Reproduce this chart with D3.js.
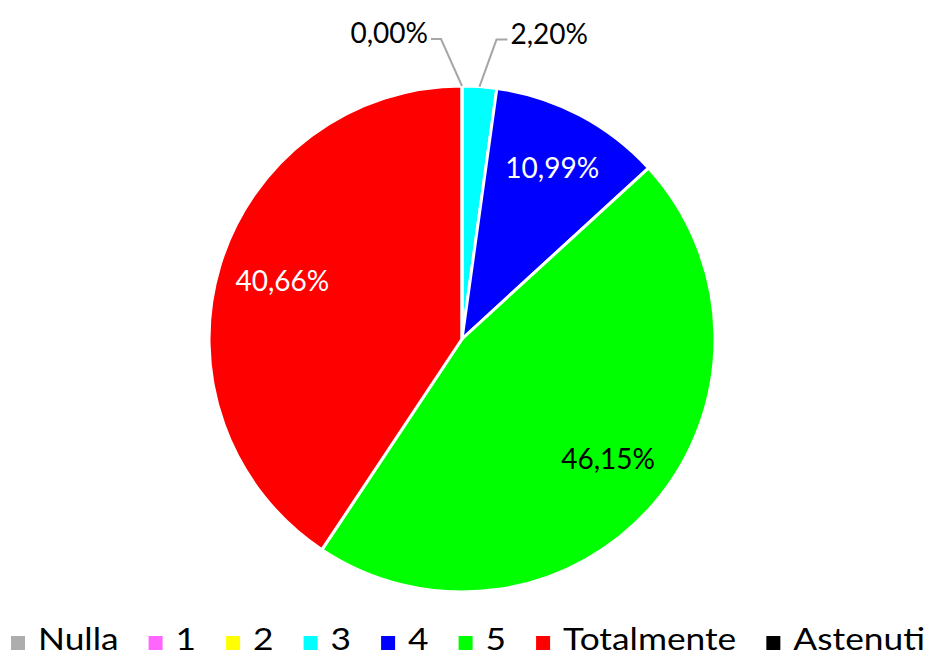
<!DOCTYPE html>
<html><head><meta charset="utf-8">
<script src="https://cdn.jsdelivr.net/npm/d3@7"></script>
<style>body{margin:0;background:#fff;}svg{display:block;}</style>
</head><body>
<svg id="c" width="931" height="657"></svg>
<script>
const categories = ["Nulla", "1", "2", "3", "4", "5", "Totalmente", "Astenuti"];
const values = [0, null, null, 2.20, 10.99, 46.15, 40.66, null];
const colors = ["#ADADAD", "#FF66FF", "#FFFF00", "#00FFFF", "#0000FF", "#00FF00", "#FF0000", "#000000"];
const labelColors = ["#000", "#000", "#000", "#000", "#FFF", "#000", "#FFF", "#000"];

const svg = d3.select("#c");
const cx = 462, cy = 339, R = 253;
const data = categories.map((c, i) => ({cat: c, v: values[i], i}));
const pie = d3.pie().sort(null).value(d => d.v == null ? 0 : d.v);
const arcs = pie(data);
const arc = d3.arc().innerRadius(0).outerRadius(R);
const g = svg.append("g").attr("transform", `translate(${cx},${cy})`);
g.selectAll("path").data(arcs).join("path")
  .attr("d", arc).attr("fill", d => colors[d.data.i])
  .attr("stroke", "#fff").attr("stroke-width", 3).attr("stroke-linejoin", "round");

const fmt = v => v.toFixed(2).replace(".", ",") + "%";
const font = "Lato, 'Open Sans', sans-serif";
const lfs = 28;
const inner = d3.arc().innerRadius(R * 0.75).outerRadius(R * 0.75);
arcs.forEach(a => {
  if (a.data.v == null) return;
  const pct = a.data.v;
  const mid = (a.startAngle + a.endAngle) / 2;
  if (pct >= 5) {
    const [x, y] = inner.centroid(a);
    g.append("text").attr("x", x + 2).attr("y", y - 3).attr("dy", "0.36em")
      .attr("text-anchor", "middle").attr("font-family", font).attr("font-size", lfs)
      .attr("fill", labelColors[a.data.i]).text(fmt(pct));
  } else {
    const px = Math.sin(mid) * R, py = -Math.cos(mid) * R;
    const left = a.data.i === 0;
    const ex = left ? px - 21 : px + 17, ey = py - 47;
    const tx = left ? ex - 10 : ex + 11;
    g.append("polyline").attr("points", `${px},${py} ${ex},${ey} ${tx},${ey}`)
      .attr("fill", "none").attr("stroke", "#A6A6A6").attr("stroke-width", 2);
    g.append("text").attr("x", left ? tx - 3 : tx + 3).attr("y", ey - 6).attr("dy", "0.36em")
      .attr("text-anchor", left ? "end" : "start").attr("font-family", font).attr("font-size", lfs)
      .attr("fill", "#000").text(fmt(pct));
  }
});

// legend
const lg = svg.append("g");
const fs = 31, sq = 14, gapSq = 13, gapItem = 30, startX = 11, endX = 925, baseY = 650;
const items = categories.map((c, i) => {
  const t = lg.append("text").attr("font-family", font).attr("font-size", fs).attr("fill", "#000").text(c);
  return {t, w: t.node().getComputedTextLength(), i};
});
const fixedW = categories.length * (sq + gapSq) + (categories.length - 1) * gapItem;
const textW = d3.sum(items, d => d.w);
const sx = (endX - startX - fixedW) / textW;
let x = startX;
items.forEach(it => {
  lg.append("rect").attr("x", x).attr("y", 636).attr("width", sq).attr("height", 14).attr("fill", colors[it.i]);
  x += sq + gapSq;
  it.t.attr("transform", `translate(${x},${baseY}) scale(${sx},1)`);
  x += it.w * sx + gapItem;
});
</script>
</body></html>
